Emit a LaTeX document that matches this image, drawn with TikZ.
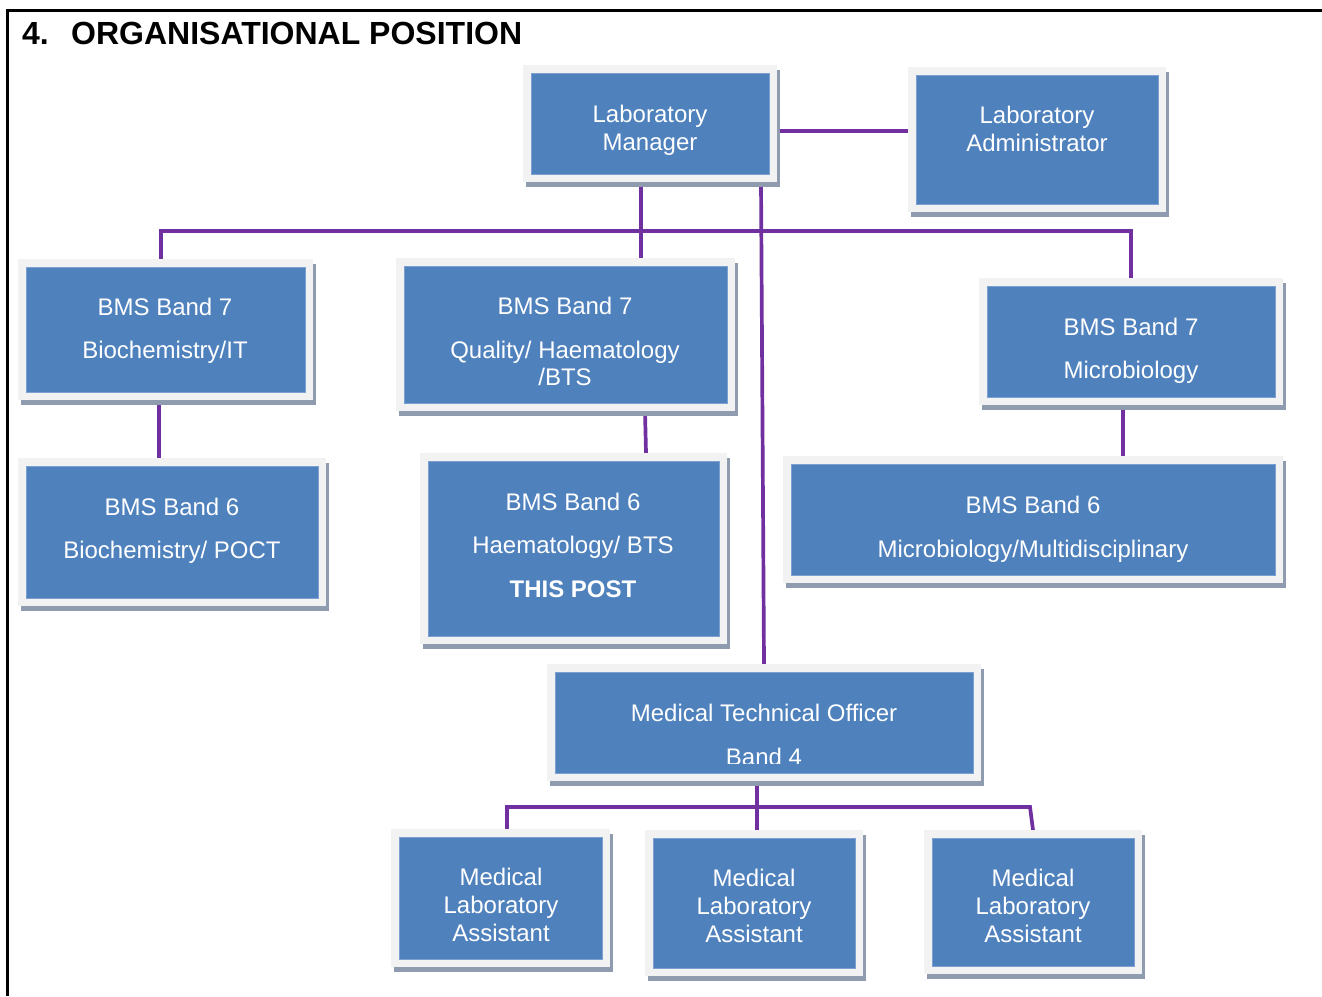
\documentclass[tikz,border=0pt]{standalone}
\usepackage{fontspec}
\setmainfont{Liberation Sans}
\usetikzlibrary{calc}
\definecolor{boxblue}{HTML}{4F81BD}
\definecolor{boxedge}{HTML}{7DA0D2}
\definecolor{boxrim}{HTML}{F2F2F2}
\definecolor{boxshade}{HTML}{8F9BAF}
\definecolor{linkpurple}{HTML}{7030A0}
\pgfdeclarelayer{bg}
\pgfsetlayers{bg,main}
\tikzset{
  rimbox/.style={rectangle, fill=boxrim, draw=none, inner sep=0pt, outer sep=0pt},
  lbl/.style={text=white, font=\fontsize{24}{28}\selectfont, anchor=base, inner sep=0pt},
  lblb/.style={lbl, font=\bfseries\fontsize{24}{28}\selectfont},
  ttl/.style={anchor=base west, inner sep=0pt, font=\bfseries\fontsize{32}{36}\selectfont},
  conn/.style={draw=linkpurple, line width=3.7pt},
  frameline/.style={draw=black, line width=2.8pt}
}
% name, x1, y1, x2, y2 of the blue face
\newcommand\obox[5]{%
  \fill[boxshade] ({#2-5},{#3-3}) rectangle ({#4+11},{#5+13});
  \node[rimbox, minimum width={(#4-#2+16)*1pt}, minimum height={(#5-#3+16)*1pt}] (#1) at ({(#2+#4)/2},{(#3+#5)/2}) {};
  \fill[boxblue, draw=boxedge, line width=0.8pt] (#2,#3) rectangle (#4,#5);
}
\begin{document}
\begin{tikzpicture}[x=1pt, y=-1pt]
\useasboundingbox (0,0) rectangle (1322,996);
\draw[frameline] (7.8,996) -- (7.8,10.3) -- (1322,10.3);
\node[ttl] (num) at (22,44) {4.};
\node[ttl] (title) at (71,44) {ORGANISATIONAL POSITION};

\obox{mgr}{531}{73}{769}{174}
\obox{adm}{916}{75}{1158}{204}
\obox{bioA}{26}{267}{305}{392}
\obox{qual}{404}{266}{727}{403}
\obox{micA}{987}{286}{1275}{397}
\obox{bioB}{26}{466}{318}{598}
\obox{haem}{428}{461}{719}{636}
\obox{micB}{791}{464}{1275}{575}
\obox{mto}{555}{672}{973}{773}
\obox{mlaA}{399}{837}{602}{959}
\obox{mlaB}{653}{838}{855}{968}
\obox{mlaC}{932}{838}{1134}{966}

\node[lbl] (mgrA) at (650,122) {Laboratory};
\node[lbl] (mgrB) at (650,150) {Manager};
\node[lbl] (admA) at (1037,123) {Laboratory};
\node[lbl] (admB) at (1037,151) {Administrator};
\node[lbl] (bioAa) at (165,315) {BMS Band 7};
\node[lbl] (bioAb) at (165,358) {Biochemistry/IT};
\node[lbl] (qualA) at (565,314) {BMS Band 7};
\node[lbl] (qualB) at (565,358) {Quality/ Haematology};
\node[lbl] (qualC) at (565,385) {/BTS};
\node[lbl] (micAa) at (1131,335) {BMS Band 7};
\node[lbl] (micAb) at (1131,378) {Microbiology};
\node[lbl] (bioBa) at (172,515) {BMS Band 6};
\node[lbl] (bioBb) at (172,558) {Biochemistry/ POCT};
\node[lbl] (haemA) at (573,510) {BMS Band 6};
\node[lbl] (haemB) at (573,553) {Haematology/ BTS};
\node[lblb] (haemC) at (573,597) {THIS POST};
\node[lbl] (micBa) at (1033,513) {BMS Band 6};
\node[lbl] (micBb) at (1033,557) {Microbiology/Multidisciplinary};
\node[lbl] (mtoA) at (764,721) {Medical Technical Officer};
\begin{scope}
  \clip (555,672) rectangle (973,763);
  \node[lbl] (mtoB) at (764,765) {Band 4};
\end{scope}
\node[lbl] (mlaAa) at (501,885) {Medical};
\node[lbl] (mlaAb) at (501,913) {Laboratory};
\node[lbl] (mlaAc) at (501,941) {Assistant};
\node[lbl] (mlaBa) at (754,886) {Medical};
\node[lbl] (mlaBb) at (754,914) {Laboratory};
\node[lbl] (mlaBc) at (754,942) {Assistant};
\node[lbl] (mlaCa) at (1033,886) {Medical};
\node[lbl] (mlaCb) at (1033,914) {Laboratory};
\node[lbl] (mlaCc) at (1033,942) {Assistant};

\begin{pgfonlayer}{bg}
\draw[conn] (0,131 -| mgr.east) -- (0,131 -| adm.west);
\draw[conn] (161,0 |- bioA.north) -- (161,231) -- (1131,231) -- (1131,0 |- micA.north);
\draw[conn] (641,0 |- mgr.south) -- (641,0 |- qual.north);
\draw[conn] (761,0 |- mgr.south) -- (764,0 |- mto.north);
\draw[conn] (159,0 |- bioA.south) -- (159,0 |- bioB.north);
\draw[conn] (645,0 |- qual.south) -- (646,0 |- haem.north);
\draw[conn] (1123,0 |- micA.south) -- (1123,0 |- micB.north);
\draw[conn] (757,0 |- mto.south) -- (757,0 |- mlaB.north);
\draw[conn] (507,0 |- mlaA.north) -- (507,807) -- (1030,807) -- (1033,0 |- mlaC.north);
\end{pgfonlayer}
\end{tikzpicture}
\end{document}
